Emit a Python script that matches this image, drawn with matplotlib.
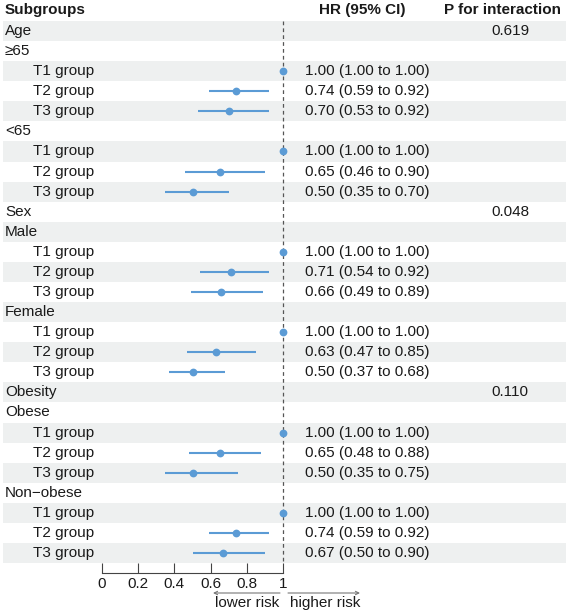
import numpy as np
import matplotlib
matplotlib.use("Agg")
import matplotlib.pyplot as plt
from matplotlib.transforms import blended_transform_factory

plt.rcParams['font.family'] = ['Liberation Sans', 'DejaVu Sans']

nan = np.nan
labels = ["Age", "≥65", "T1 group", "T2 group", "T3 group",
          "<65", "T1 group", "T2 group", "T3 group",
          "Sex", "Male", "T1 group", "T2 group", "T3 group",
          "Female", "T1 group", "T2 group", "T3 group",
          "Obesity", "Obese", "T1 group", "T2 group", "T3 group",
          "Non\u2212obese", "T1 group", "T2 group", "T3 group"]
indent = [0, 0, 1, 1, 1, 0, 1, 1, 1, 0, 0, 1, 1, 1, 0, 1, 1, 1,
          0, 0, 1, 1, 1, 0, 1, 1, 1]
hr = [nan, nan, 1.00, 0.74, 0.70, nan, 1.00, 0.65, 0.50,
      nan, nan, 1.00, 0.71, 0.66, nan, 1.00, 0.63, 0.50,
      nan, nan, 1.00, 0.65, 0.50, nan, 1.00, 0.74, 0.67]
lo = [nan, nan, 1.00, 0.59, 0.53, nan, 1.00, 0.46, 0.35,
      nan, nan, 1.00, 0.54, 0.49, nan, 1.00, 0.47, 0.37,
      nan, nan, 1.00, 0.48, 0.35, nan, 1.00, 0.59, 0.50]
hi = [nan, nan, 1.00, 0.92, 0.92, nan, 1.00, 0.90, 0.70,
      nan, nan, 1.00, 0.92, 0.89, nan, 1.00, 0.85, 0.68,
      nan, nan, 1.00, 0.88, 0.75, nan, 1.00, 0.92, 0.90]
p_int = ["0.619", "", "", "", "", "", "", "", "",
         "0.048", "", "", "", "", "", "", "", "",
         "0.110", "", "", "", "", "", "", "", ""]
xticks = [0, 0.2, 0.4, 0.6, 0.8, 1]
xtick_labels = ["0", "0.2", "0.4", "0.6", "0.8", "1"]

W, H = 570, 613
fig = plt.figure(figsize=(W / 100, H / 100), dpi=100)
ax = fig.add_axes([0, 0, 1, 1])

# pixel mapping
x0_px, x1_px = 102, 283
scale = x1_px - x0_px
ax.set_xlim(-x0_px / scale, (W - x0_px) / scale)
row0_px, row_h = 31, 20.077
ax.set_ylim((H - row0_px) / row_h, -row0_px / row_h)

def px(xp):
    return xp / W

trans = blended_transform_factory(ax.transAxes, ax.transData)
n = len(labels)
txt_color = "#1a1a1a"
fs = 11

# shading
for i in range(n):
    if i % 2 == 0:
        ax.axhspan(i - 0.5, i + 0.5, xmin=px(3), xmax=px(566),
                   color="#eef0f0", lw=0, zorder=0)

# reference line
ax.plot([1, 1], [-0.5, n - 0.5], color="#555555", lw=0.9,
        dashes=(3, 2.5), zorder=1)

# CIs and points
col = "#5B9BD5"
for i in range(n):
    if not np.isnan(hr[i]):
        ax.plot([lo[i], hi[i]], [i, i], color=col, lw=1.5,
                solid_capstyle="butt", zorder=2)
        ax.plot(hr[i], i, "o", color=col, ms=5.6, mew=0, zorder=3)

# texts
for i in range(n):
    x = 33 if indent[i] else 5
    ax.text(px(x), i, labels[i], transform=trans, fontsize=fs,
            color=txt_color, va="center", ha="left")
    if not np.isnan(hr[i]):
        ax.text(px(305), i, f"{hr[i]:.2f} ({lo[i]:.2f} to {hi[i]:.2f})",
                transform=trans, fontsize=fs, color=txt_color,
                va="center", ha="left")
    if p_int[i]:
        ax.text(px(510), i, p_int[i], transform=trans, fontsize=fs,
                color=txt_color, va="center", ha="center")

hy = -9.5 / 9.5 * 1.05
ax.text(px(5), hy, "Subgroups", transform=trans, fontsize=fs,
        fontweight="bold", color=txt_color, va="center", ha="left")
ax.text(px(362.5), hy, "HR (95% CI)", transform=trans, fontsize=fs,
        fontweight="bold", color=txt_color, va="center", ha="center")
ax.text(px(502.5), hy, "P for interaction", transform=trans, fontsize=fs,
        fontweight="bold", color=txt_color, va="center", ha="center")

# axis
for s in ["top", "left", "right"]:
    ax.spines[s].set_visible(False)
axis_row = (573 - row0_px) / row_h
ax.spines["bottom"].set_position(("data", axis_row))
ax.spines["bottom"].set_bounds(0, 1)
ax.spines["bottom"].set_color("#444444")
ax.spines["bottom"].set_linewidth(0.8)
ax.set_xticks(xticks)
ax.set_xticklabels(xtick_labels)
ax.tick_params(axis="x", direction="in", length=7.2, width=0.8,
               color="#444444", labelsize=fs, labelcolor=txt_color, pad=3)
ax.set_yticks([])

# risk arrows
arr_row = (593 - row0_px) / row_h
txt_row = (603 - row0_px) / row_h
ax.annotate("", xy=((213 - x0_px) / scale, arr_row),
            xytext=((280 - x0_px) / scale, arr_row),
            arrowprops=dict(arrowstyle="->", color="#777777", lw=0.8,
                            shrinkA=0, shrinkB=0, mutation_scale=6))
ax.annotate("", xy=((360 - x0_px) / scale, arr_row),
            xytext=((288 - x0_px) / scale, arr_row),
            arrowprops=dict(arrowstyle="->", color="#777777", lw=0.8,
                            shrinkA=0, shrinkB=0, mutation_scale=6))
ax.text((247 - x0_px) / scale, txt_row, "lower risk", fontsize=fs,
        color=txt_color, va="center", ha="center")
ax.text((325 - x0_px) / scale, txt_row, "higher risk", fontsize=fs,
        color=txt_color, va="center", ha="center")

fig.savefig("out.png", dpi=100)
